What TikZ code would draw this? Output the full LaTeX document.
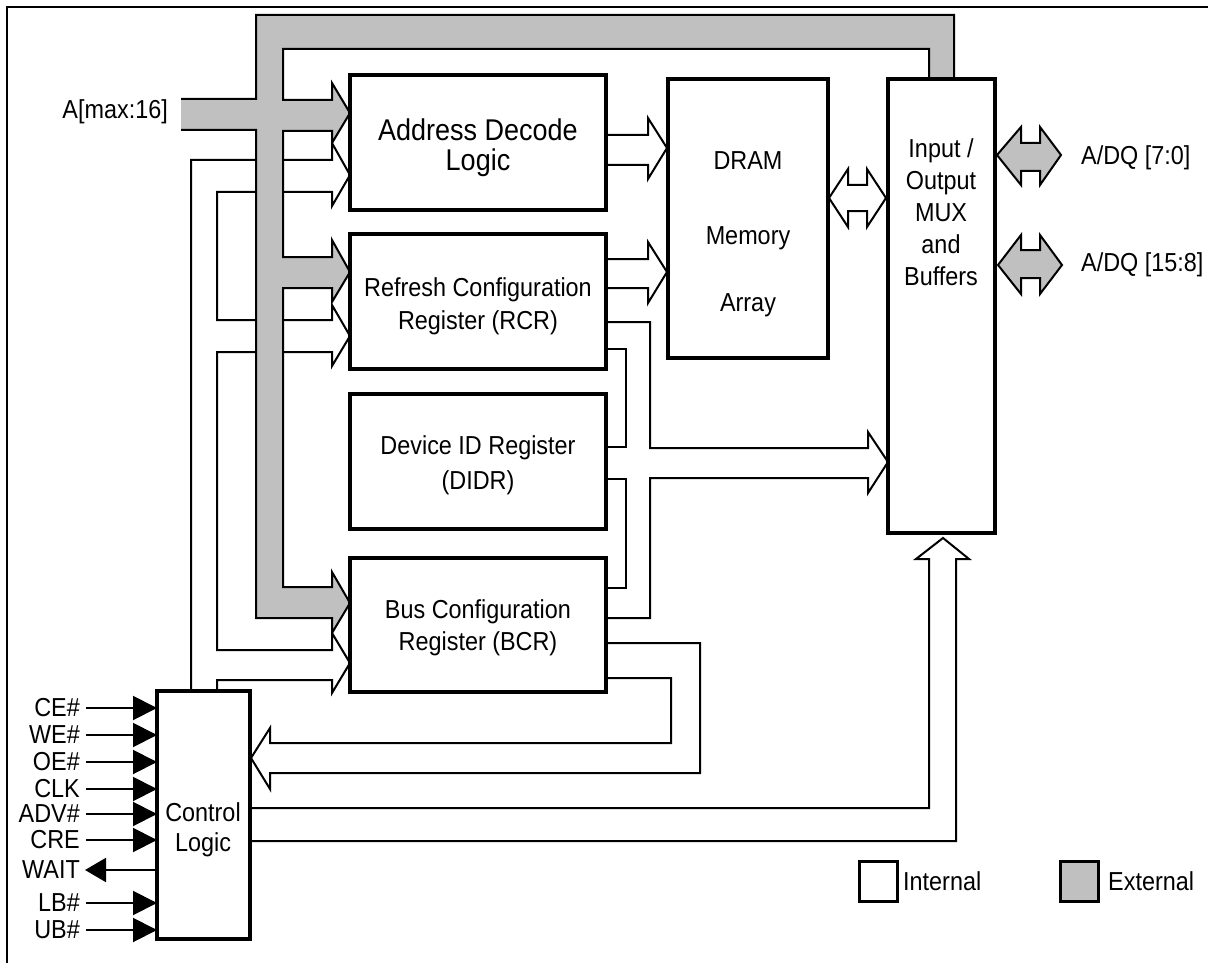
\documentclass[tikz,border=0pt]{standalone}
\usepackage{fontspec}
\setmainfont[FakeStretch=0.9]{Liberation Sans}
\usetikzlibrary{arrows.meta}
\definecolor{busgray}{RGB}{192,192,192}
\newcommand\lblfont{\fontsize{26}{32}\selectfont}
\begin{document}
\begin{tikzpicture}[x=1pt,y=-1pt,
  blk/.style={draw, line width=3.5pt, fill=white, inner sep=0pt, outer sep=0pt, anchor=north west},
  wire/.style={line width=2pt, line join=miter},
  lbl/.style={inner sep=0pt, font=\lblfont, align=center},
  inarrow/.style={wire, -{Triangle[length=24pt,width=24pt]}},
  outarrow/.style={wire, -{Triangle[length=21pt,width=24pt]}},
  legbox/.style={draw, line width=3pt, inner sep=0pt, outer sep=0pt, minimum width=38pt, minimum height=40pt, anchor=north west},
]
\useasboundingbox (0,0) rectangle (1208,963);

% frame
\draw[line width=2.5pt] (7,963) -- (7,7) -- (1208,7);

% internal control bus from Control Logic to the registers
\draw[wire] (191,691) -- (191,160) -- (332,160) -- (332,143) -- (350,175) -- (332,206) -- (332,192)
  -- (217,192) -- (217,320) -- (332,320) -- (332,305) -- (350,336) -- (332,366) -- (332,352)
  -- (217,352) -- (217,650) -- (332,650) -- (332,633) -- (350,663) -- (332,693) -- (332,680)
  -- (217,680) -- (217,691);

% external address bus
\fill[busgray] (181,99) -- (256,99) -- (256,15) -- (954,15) -- (954,79) -- (929,79) -- (929,49)
  -- (283,49) -- (283,100) -- (332,100) -- (332,83) -- (350,113) -- (332,143) -- (332,131)
  -- (283,131) -- (283,257) -- (332,257) -- (332,240) -- (350,272) -- (332,302) -- (332,288)
  -- (283,288) -- (283,587) -- (332,587) -- (332,572) -- (350,603) -- (332,633) -- (332,618)
  -- (256,618) -- (256,130) -- (181,130) -- cycle;
\draw[wire] (181,99) -- (256,99) -- (256,15) -- (954,15) -- (954,79) (929,79) -- (929,49)
  -- (283,49) -- (283,100) -- (332,100) -- (332,83) -- (350,113) -- (332,143) -- (332,131)
  -- (283,131) -- (283,257) -- (332,257) -- (332,240) -- (350,272) -- (332,302) -- (332,288)
  -- (283,288) -- (283,587) -- (332,587) -- (332,572) -- (350,603) -- (332,633) -- (332,618)
  -- (256,618) -- (256,130) -- (181,130);

% register outputs to I/O
\draw[wire] (606,322) -- (650,322) -- (650,448) -- (868,448) -- (868,432) -- (888,462) -- (868,493)
  -- (868,478) -- (650,478) -- (650,618) -- (606,618);
\draw[wire] (606,349) -- (626,349) -- (626,447) -- (606,447);
\draw[wire] (606,479) -- (626,479) -- (626,588) -- (606,588);

% BCR back to Control Logic
\draw[wire] (606,643) -- (700,643) -- (700,773) -- (270,773) -- (270,789) -- (251,758) -- (270,728)
  -- (270,743) -- (671,743) -- (671,678) -- (606,678);

% Control Logic to I/O
\draw[wire] (250,808) -- (929,808) -- (929,559) -- (916,559) -- (943,538) -- (969,559)
  -- (956,559) -- (956,841) -- (250,841);

% to DRAM
\draw[wire] (606,135) -- (648,135) -- (648,118) -- (667,148) -- (648,179) -- (648,165) -- (606,165);
\draw[wire] (606,259) -- (648,259) -- (648,242) -- (667,272) -- (648,303) -- (648,288) -- (606,288);

% DRAM <-> I/O
\draw[wire] (829,198) -- (848,169) -- (848,185) -- (867,185) -- (867,169) -- (886,198) -- (867,227)
  -- (867,211) -- (848,211) -- (848,227) -- cycle;

% external data
\draw[wire, fill=busgray] (997,155) -- (1021,127) -- (1021,143) -- (1040,143) -- (1040,127) -- (1061,155)
  -- (1040,185) -- (1040,171) -- (1021,171) -- (1021,185) -- cycle;
\draw[wire, fill=busgray] (998,265) -- (1021,235) -- (1021,250) -- (1040,250) -- (1040,235) -- (1062,265)
  -- (1040,294) -- (1040,278) -- (1021,278) -- (1021,294) -- cycle;

% blocks
\node[blk, minimum width=256pt, minimum height=135pt] (ad) at (350,75) {};
\node[blk, minimum width=256pt, minimum height=135pt] (rcr) at (350,234) {};
\node[blk, minimum width=256pt, minimum height=135pt] (didr) at (350,394) {};
\node[blk, minimum width=256pt, minimum height=134pt] (bcr) at (350,558) {};
\node[blk, minimum width=160pt, minimum height=279pt] (dram) at (668,79) {};
\node[blk, minimum width=107pt, minimum height=454pt] (io) at (888,79) {};
\node[blk, minimum width=93pt, minimum height=248pt] (ctrl) at (157,691) {};

% block texts
\node[lbl, font=\fontsize{30}{30}\selectfont] (adt) at (478,148) {Address Decode\\Logic};
\node[lbl, font=\fontsize{26}{67}\selectfont] (dramt) at (748,234) {DRAM\\[8pt]Memory\\Array};
\node[lbl] (iot) at (941,212) {Input /\\Output\\MUX\\and\\Buffers};
\node[lbl, font=\fontsize{26}{33}\selectfont] (rcrt) at (478,306) {Refresh Configuration\\Register (RCR)};
\node[lbl, font=\fontsize{26}{35}\selectfont] (didrt) at (478,465) {Device ID Register\\(DIDR)};
\node[lbl] (bcrt) at (478,628) {Bus Configuration\\Register (BCR)};
\node[lbl, font=\fontsize{26}{30}\selectfont] (ctrlt) at (203,830) {Control\\Logic};

% external labels
\node[lbl, anchor=east] (amax) at (168,112) {A[max:16]};
\node[lbl, anchor=west] (dq1) at (1081,158) {A/DQ [7:0]};
\node[lbl, anchor=west] (dq2) at (1081,265) {A/DQ [15:8]};

% control inputs
\foreach \yy/\lab in {708/CE\#,735/WE\#,762/OE\#,789/CLK,814/ADV\#,840/CRE,903/LB\#,930/UB\#}{
  \draw[inarrow] (86,\yy) -- (157,\yy);
  \node[lbl, anchor=east] (in\yy) at (80,\yy) {\lab};
}
\draw[outarrow] (157,870) -- (85,870);
\node[lbl, anchor=east] (wait) at (80,870) {WAIT};

% legend
\node[legbox, fill=white] (lint) at (859,861) {};
\node[lbl, anchor=west] (lintt) at (903,881) {Internal};
\node[legbox, fill=busgray] (lext) at (1060,861) {};
\node[lbl, anchor=west] (lextt) at (1108,881) {External};
\end{tikzpicture}
\end{document}
